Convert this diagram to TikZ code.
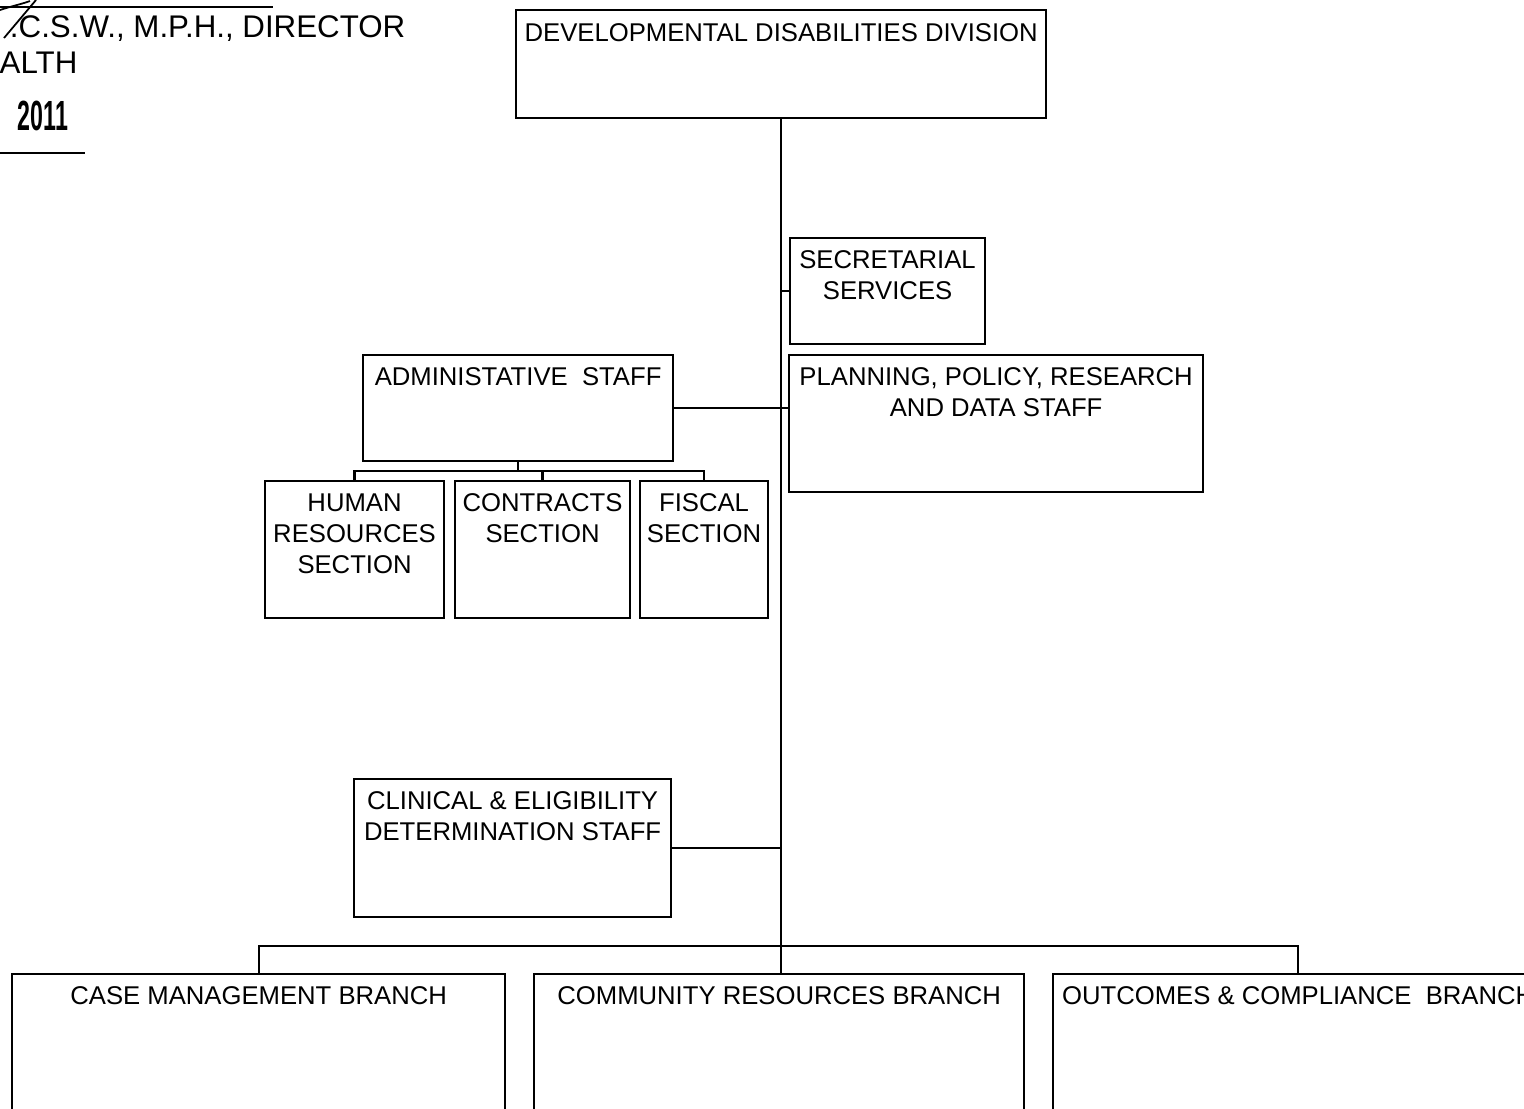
\documentclass[tikz,border=0pt]{standalone}
\usepackage{fontspec}
\setmainfont{Liberation Sans}
\newcommand\orgfont{\fontsize{7.3}{8.8}\selectfont}
\newcommand\hdrfont{\fontsize{8.9}{10.5}\selectfont}
\begin{document}
\begin{tikzpicture}[x=0.01cm,y=-0.01cm,
  unit/.style={draw, line width=0.65pt, rectangle, inner sep=0pt, outer sep=0pt, anchor=north west},
  unitlabel/.style={font=\orgfont, align=center, anchor=north, inner sep=0pt},
  link/.style={line width=0.65pt}]
\useasboundingbox (0,0) rectangle (1524,1108);
\clip (0,0) rectangle (1524,1108);

% signature block, top left
\draw[line width=0.45pt] (0,7) -- (273,7);
\draw[line width=0.5pt] (0,10) .. controls (12,6) and (22,4) .. (30,1);
\draw[line width=0.5pt] (4,38) -- (36,0);
\node[anchor=base east, font=\hdrfont, inner sep=0pt] (title) at (406,37) {.C.S.W., M.P.H., DIRECTOR};
\node[anchor=base west, font=\hdrfont, inner sep=0pt] (dept) at (-1,73) {ALTH};
\node[anchor=base west, font=\fontsize{12}{14}\selectfont\bfseries, inner sep=0pt] (year) at (17,130) {\scalebox{0.55}[1]{2011}};
\draw[line width=0.5pt] (0,153) -- (85,153);

% units
\node[unit, minimum width=5.30cm, minimum height=1.08cm] (ddd) at (516,10) {};
\node[unit, minimum width=1.95cm, minimum height=1.06cm] (sec) at (790,238) {};
\node[unit, minimum width=4.14cm, minimum height=1.37cm] (ppr) at (789,355) {};
\node[unit, minimum width=3.10cm, minimum height=1.06cm] (adm) at (363,355) {};
\node[unit, minimum width=1.79cm, minimum height=1.37cm] (hrs) at (265,481) {};
\node[unit, minimum width=1.75cm, minimum height=1.37cm] (con) at (455,481) {};
\node[unit, minimum width=1.28cm, minimum height=1.37cm] (fis) at (640,481) {};
\node[unit, minimum width=3.17cm, minimum height=1.38cm] (cle) at (354,779) {};
\node[unit, minimum width=4.93cm, minimum height=2.00cm] (cmb) at (12,974) {};
\node[unit, minimum width=4.90cm, minimum height=2.00cm] (crb) at (534,974) {};
\node[unit, minimum width=4.90cm, minimum height=2.00cm] (ocb) at (1053,974) {};

% unit titles
\node[unitlabel] (ddd-t) at ([yshift=-3.7pt]ddd.north) {DEVELOPMENTAL DISABILITIES DIVISION};
\node[unitlabel] (sec-t) at ([yshift=-3.5pt]sec.north) {SECRETARIAL\\SERVICES};
\node[unitlabel] (ppr-t) at ([yshift=-3.5pt]ppr.north) {PLANNING, POLICY, RESEARCH\\AND DATA STAFF};
\node[unitlabel] (adm-t) at ([yshift=-3.5pt]adm.north) {ADMINISTATIVE~~STAFF};
\node[unitlabel] (hrs-t) at ([yshift=-3.5pt]hrs.north) {HUMAN\\RESOURCES\\SECTION};
\node[unitlabel] (con-t) at ([yshift=-3.5pt]con.north) {CONTRACTS\\SECTION};
\node[unitlabel] (fis-t) at ([yshift=-3.5pt]fis.north) {FISCAL\\SECTION};
\node[unitlabel] (cle-t) at ([yshift=-3.5pt]cle.north) {CLINICAL \& ELIGIBILITY\\DETERMINATION STAFF};
\node[unitlabel] (cmb-t) at ([yshift=-3.5pt]cmb.north) {CASE MANAGEMENT BRANCH};
\node[unitlabel] (crb-t) at ([yshift=-3.5pt]crb.north) {COMMUNITY RESOURCES BRANCH};
\node[unitlabel] (ocb-t) at ([yshift=-3.5pt]ocb.north) {OUTCOMES \& COMPLIANCE~~BRANCH};

% reporting lines
\coordinate (abus) at ([yshift=-2.85pt]adm.south);
\coordinate (bbus) at (779,946);
\draw[link] (ddd.south) -- (ddd.south |- crb.north);
\draw[link] (sec.west -| ddd.south) -- (sec.west);
\draw[link] (adm.east) -- (adm.east -| ppr.west);
\draw[link] (cle.east) -- (cle.east -| ddd.south);
\draw[link] (adm.south) -- (abus);
\draw[link] (hrs.north) |- (abus) -| (fis.north);
\draw[link] (con.north) -- (con.north |- abus);
\draw[link] (cmb.north) |- (bbus) -| (ocb.north);
\end{tikzpicture}
\end{document}
